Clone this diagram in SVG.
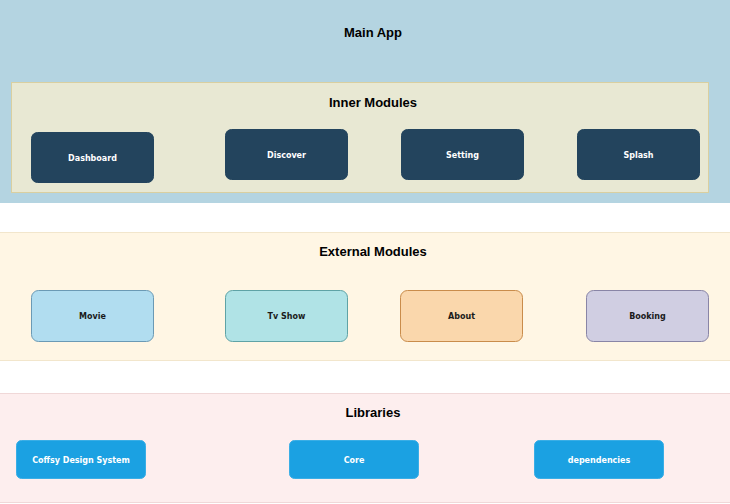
<svg xmlns="http://www.w3.org/2000/svg" width="730" height="504" viewBox="0 0 730 504">
<style>
.title{font-family:"Liberation Sans",Arial,sans-serif;font-weight:bold;font-size:13px;fill:#000;text-anchor:middle}
.lbl{font-family:"DejaVu Sans",Verdana,sans-serif;font-weight:bold;font-size:8px;text-anchor:middle;dominant-baseline:central}
.inner{fill:#23445d;stroke:#23445d}
.w{fill:#ffffff}
.d{fill:#1a1a1a}
.lib{fill:#1ba1e2;stroke:#3aaee6}
</style>
<rect width="730" height="504" fill="#ffffff"/>
<g id="main-app">
<rect x="0" y="0" width="730" height="203" fill="#b4d4e1"/>
<text class="title" x="373" y="37">Main App</text>
</g>
<g id="inner-modules">
<rect x="11.5" y="82.5" width="697" height="110" fill="#e8e8d3" stroke="#d9cfa0"/>
<text class="title" x="373" y="107">Inner Modules</text>
</g>
<g id="dashboard"><rect class="inner" x="31.5" y="132.5" width="122" height="50" rx="6"/><text class="lbl w" x="92.5" y="158.5">Dashboard</text></g>
<g id="discover"><rect class="inner" x="225.5" y="129.5" width="122" height="50" rx="6"/><text class="lbl w" x="286.5" y="155.5">Discover</text></g>
<g id="setting"><rect class="inner" x="401.5" y="129.5" width="122" height="50" rx="6"/><text class="lbl w" x="462.5" y="155.5">Setting</text></g>
<g id="splash"><rect class="inner" x="577.5" y="129.5" width="122" height="50" rx="6"/><text class="lbl w" x="638.5" y="155.5">Splash</text></g>
<g id="external-modules">
<rect x="-1" y="232.5" width="732" height="128" fill="#fff6e4" stroke="#f2e6cc"/>
<text class="title" x="373" y="256">External Modules</text>
</g>
<g id="movie"><rect x="31.5" y="290.5" width="122" height="51" rx="7" fill="#b1ddf0" stroke="#6b9ab5"/><text class="lbl d" x="92.5" y="316.5">Movie</text></g>
<g id="tv-show"><rect x="225.5" y="290.5" width="122" height="51" rx="7" fill="#b0e3e6" stroke="#5fa3a6"/><text class="lbl d" x="286.5" y="316.5">Tv Show</text></g>
<g id="about"><rect x="400.5" y="290.5" width="122" height="51" rx="7" fill="#fad7ac" stroke="#c98c4b"/><text class="lbl d" x="461.5" y="316.5">About</text></g>
<g id="booking"><rect x="586.5" y="290.5" width="122" height="51" rx="7" fill="#d0cee2" stroke="#8985a6"/><text class="lbl d" x="647.5" y="316.5">Booking</text></g>
<g id="libraries">
<rect x="-1" y="393.5" width="732" height="109" fill="#fdeeee" stroke="#f0d8d8"/>
<text class="title" x="373" y="417">Libraries</text>
</g>
<g id="coffsy-design-system"><rect class="lib" x="16.5" y="440.5" width="129" height="38" rx="5"/><text class="lbl w" x="81" y="460">Coffsy Design System</text></g>
<g id="core"><rect class="lib" x="289.5" y="440.5" width="129" height="38" rx="5"/><text class="lbl w" x="354" y="460">Core</text></g>
<g id="dependencies"><rect class="lib" x="534.5" y="440.5" width="129" height="38" rx="5"/><text class="lbl w" x="599" y="460">dependencies</text></g>
<g id="connectors"></g>
</svg>
